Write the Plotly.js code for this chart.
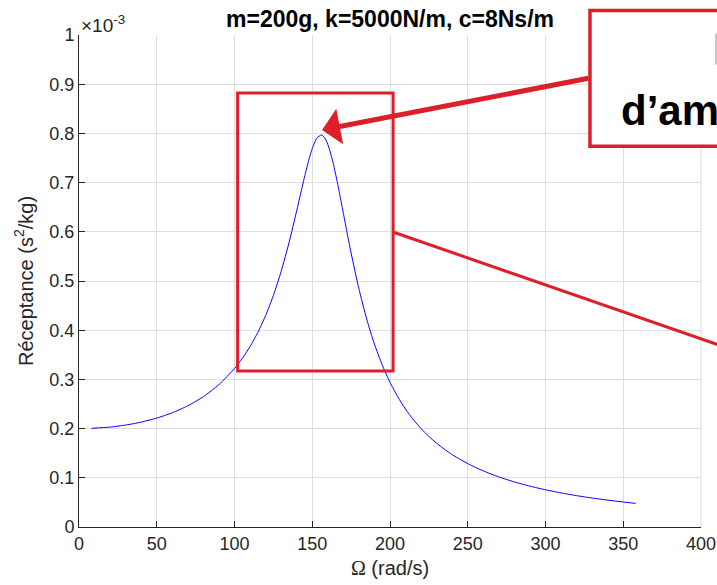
<!DOCTYPE html>
<html>
<head>
<meta charset="utf-8">
<script src="https://cdn.plot.ly/plotly-3.0.1.min.js"></script>
<style>html,body{margin:0;padding:0;background:#fff;overflow:hidden}#chart{width:717px;height:585px}</style>
</head>
<body>
<div id="chart"></div>
<script>
// Pulsation Omega (rad/s)
const omega = [8, 20, 30, 40, 50, 60, 70, 80, 90, 100, 105, 110, 115, 120, 125, 130, 135, 140, 142, 145, 148, 150, 153, 156, 158, 160, 163, 166, 168, 170, 172, 175, 180, 185, 190, 195, 200, 205, 210, 215, 220, 225, 230, 235, 240, 245, 250, 255, 260, 270, 280, 290, 300, 310, 320, 330, 340, 350, 358];
// Receptance (x 10^-3 s^2/kg)
const receptance = [0.2005, 0.2031, 0.2072, 0.2132, 0.2214, 0.2322, 0.2464, 0.2649, 0.2894, 0.3221, 0.3426, 0.3668, 0.3955, 0.4297, 0.4706, 0.5195, 0.5771, 0.6427, 0.6703, 0.7111, 0.7484, 0.7692, 0.7907, 0.7968, 0.7911, 0.7778, 0.7456, 0.7027, 0.6708, 0.6378, 0.6048, 0.5568, 0.4843, 0.4228, 0.3717, 0.3293, 0.2941, 0.2646, 0.2396, 0.2183, 0.2000, 0.1841, 0.1702, 0.1580, 0.1471, 0.1375, 0.1288, 0.1211, 0.1140, 0.1018, 0.0916, 0.0830, 0.0756, 0.0693, 0.0637, 0.0589, 0.0546, 0.0508, 0.0480];

const titleText = "m=200g, k=5000N/m, c=8Ns/m";
const xTitle = "<span style='font-family:Liberation Serif'>Ω</span> (rad/s)";
const yTitle = "Réceptance (s<sup>2</sup>/kg)";
const multiplier = "×10<sup>-3</sup>";
const boxLine2 = "d’amplitude";

const RED = "#dd1f2c";
const AX = "#262626";
const FONT = "Liberation Sans, Arial, sans-serif";

const trace = {
  x: omega, y: receptance, type: "scatter", mode: "lines",
  line: {color: "#0000ff", width: 1, shape: "spline", smoothing: 0.6},
  hoverinfo: "skip"
};

const layout = {
  width: 717, height: 585,
  margin: {l: 79, r: 16, t: 35, b: 58},
  paper_bgcolor: "#ffffff", plot_bgcolor: "#ffffff",
  showlegend: false,
  font: {family: FONT, color: AX, size: 18},
  title: {text: "<b>" + titleText + "</b>", font: {family: FONT, size: 23, color: "#000"},
          x: 0.5, xref: "paper", y: 1 - 19/585, yref: "container", yanchor: "middle"},
  xaxis: {
    range: [0, 400], dtick: 50, tick0: 0,
    showgrid: true, gridcolor: "#dedede", gridwidth: 1,
    zeroline: false, showline: true, linecolor: AX, linewidth: 1,
    ticks: "inside", ticklen: 6, tickcolor: AX,
    tickfont: {family: FONT, size: 18, color: AX},
    title: {text: xTitle, font: {family: FONT, size: 20, color: AX}, standoff: 8},
    automargin: false
  },
  yaxis: {
    range: [0, 1], dtick: 0.1, tick0: 0,
    showgrid: true, gridcolor: "#dedede", gridwidth: 1,
    zeroline: false, showline: true, linecolor: AX, linewidth: 1,
    ticks: "inside", ticklen: 6, tickcolor: AX,
    tickfont: {family: FONT, size: 18, color: AX},
    title: {text: yTitle, font: {family: FONT, size: 20, color: AX}, standoff: 10},
    automargin: false
  },
  shapes: [
    {type: "line", xref: "paper", yref: "paper", x0: 1, x1: 1, y0: 0, y1: 1, line: {color: "#dedede", width: 1}, layer: "below"},
    {type: "rect", xref: "x", yref: "y", x0: 102, x1: 202, y0: 0.317, y1: 0.882, line: {color: RED, width: 3}},
    {type: "line", xref: "paper", yref: "paper", x0: 0.5048, y0: 0.5996, x1: 1.12, y1: 0.33, line: {color: RED, width: 3}},
    {type: "rect", xref: "paper", yref: "paper", x0: 0.8215, x1: 1.3, y0: 0.774, y1: 1.05, line: {color: RED, width: 3.5}, fillcolor: "rgba(255,255,255,1)"},
    {type: "rect", xref: "paper", yref: "paper", x0: 1.0225, x1: 1.05, y0: 0.94, y1: 1.003, line: {width: 0}, fillcolor: "#c8c8c8"}
  ],
  annotations: [
    {xref: "paper", yref: "paper", x: 0, y: 1, xanchor: "left", yanchor: "bottom", yshift: -3,
     text: multiplier, showarrow: false, font: {family: FONT, size: 19, color: AX}},
    {xref: "paper", yref: "paper", x: (619 - 79) / 622, y: (527 - 111) / 492, xanchor: "left", yanchor: "middle",
     text: "<b>" + boxLine2 + "</b>", showarrow: false, font: {family: FONT, size: 42, color: "#000"}},
    {xref: "x", yref: "y", x: 156.3, y: 0.807, axref: "x", ayref: "y", ax: 328.6, ay: 0.9126,
     text: "", showarrow: true, arrowhead: 1, arrowsize: 1.2, arrowwidth: 5, arrowcolor: RED}
  ]
};

Plotly.newPlot("chart", [trace], layout, {displayModeBar: false, staticPlot: true});
</script>
</body>
</html>
